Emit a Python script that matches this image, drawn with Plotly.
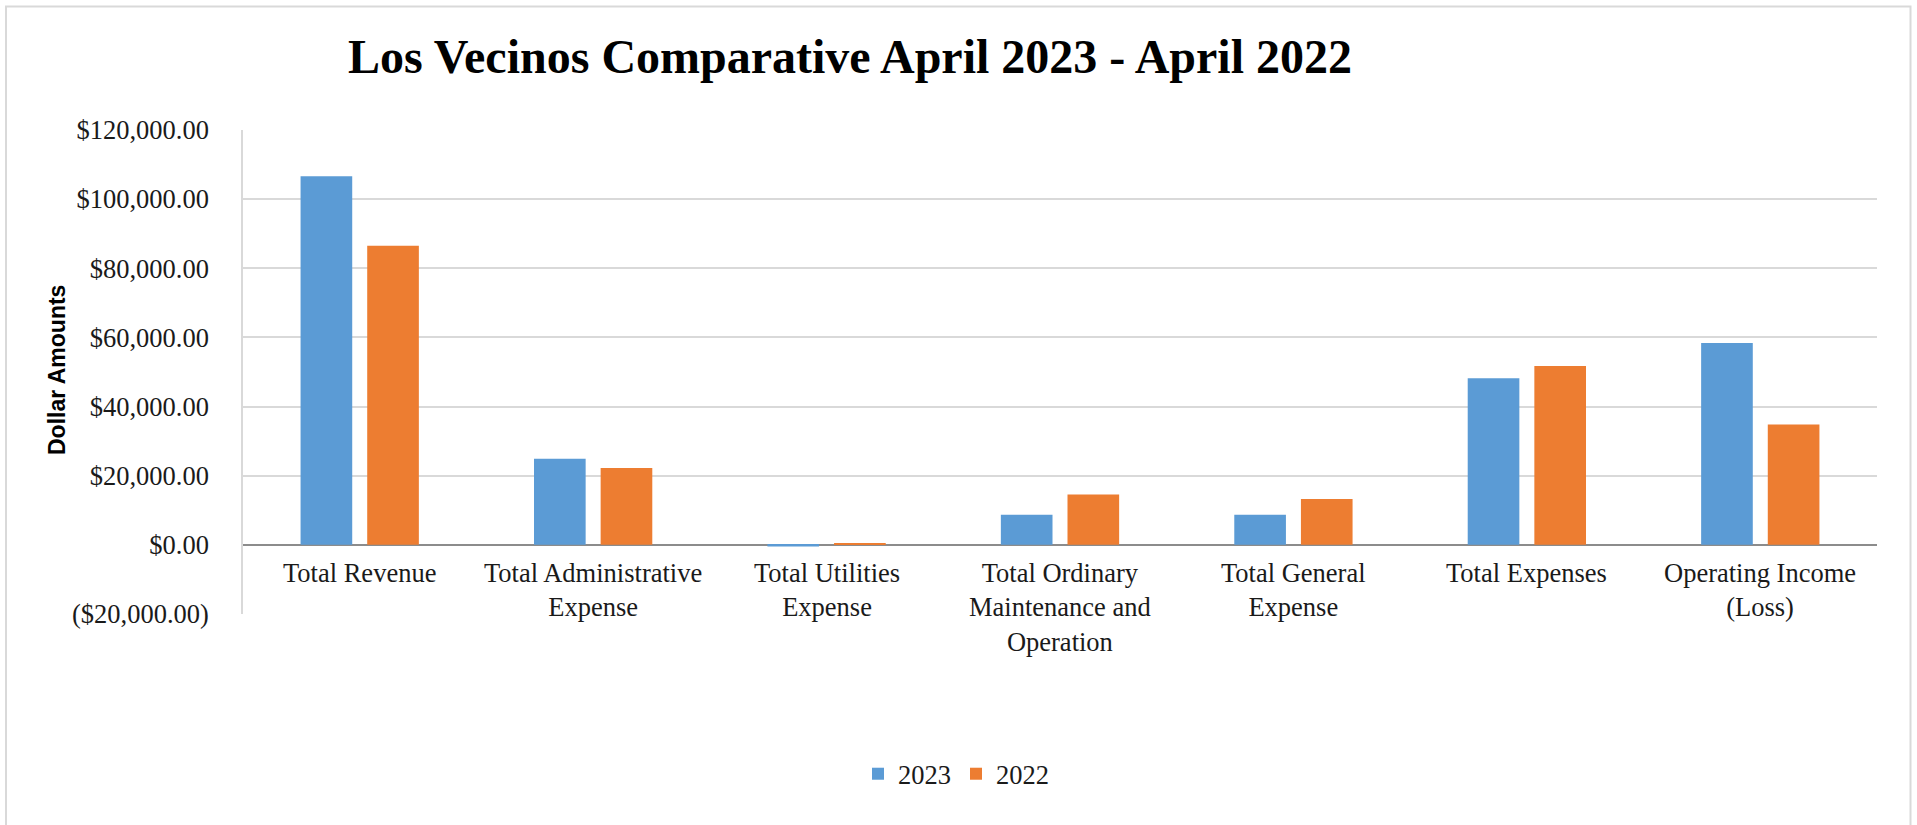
import plotly.graph_objects as go

# Category labels (line breaks as shown under each group)
categories = [
    "Total Revenue",
    "Total Administrative<br>Expense",
    "Total Utilities<br>Expense",
    "Total Ordinary<br>Maintenance and<br>Operation",
    "Total General<br>Expense",
    "Total Expenses",
    "Operating Income<br>(Loss)",
]

# Dollar amounts per category
values_2023 = [106600, 24900, -450, 8700, 8700, 48200, 58400]
values_2022 = [86500, 22200, 350, 14600, 13300, 51700, 34800]

# Y axis ticks
y_tickvals = [-20000, 0, 20000, 40000, 60000, 80000, 100000, 120000]
y_ticktext = ["($20,000.00)", "$0.00", "$20,000.00", "$40,000.00", "$60,000.00",
              "$80,000.00", "$100,000.00", "$120,000.00"]

SERIF = "Liberation Serif, Times New Roman, serif"
BLUE = "#5B9BD5"
ORANGE = "#ED7D31"
GRID = "#D9D9D9"
TEXT = "#1a1a1a"
LABEL_SIZE = 26.5

W, H = 1917, 825
ML, MR, MT, MB = 243, 40, 130, 211
plot_w = W - ML - MR
plot_h = H - MT - MB

x_idx = list(range(len(categories)))

fig = go.Figure()
fig.add_trace(go.Bar(x=x_idx, y=values_2023, name="2023", marker_color=BLUE,
                     marker_line_width=0))
fig.add_trace(go.Bar(x=x_idx, y=values_2022, name="2022", marker_color=ORANGE,
                     marker_line_width=0))

# Category labels sit just under the $0 line
for i, label in enumerate(categories):
    fig.add_annotation(x=i, y=0, xref="x", yref="y", text=label, showarrow=False,
                       yanchor="top", xanchor="center", yshift=-11,
                       font=dict(family=SERIF, size=LABEL_SIZE, color=TEXT))


def px_to_paper_x(px):
    return (px - ML) / plot_w


def px_to_paper_y(py):
    return (H - MB - py) / plot_h


# Vertical axis title
fig.add_annotation(x=px_to_paper_x(57), y=px_to_paper_y(370), xref="paper", yref="paper",
                   text="<b>Dollar Amounts</b>", textangle=-90, showarrow=False,
                   xanchor="center", yanchor="middle",
                   font=dict(family="Liberation Sans, Arial, sans-serif", size=23,
                             color="black"))

# Light outer frame around the chart
fig.add_shape(type="rect", xref="paper", yref="paper",
              x0=px_to_paper_x(6), x1=px_to_paper_x(1910.5),
              y0=px_to_paper_y(840), y1=px_to_paper_y(6.5),
              line=dict(color=GRID, width=2), fillcolor="rgba(0,0,0,0)", layer="below")

fig.update_layout(
    width=W, height=H,
    margin=dict(l=ML, r=MR, t=MT, b=MB, autoexpand=False),
    paper_bgcolor="white", plot_bgcolor="white",
    barmode="group", bargap=0.429, bargroupgap=0.225,
    title=dict(text="<b>Los Vecinos Comparative April 2023 - April 2022</b>",
               xref="container", yref="container",
               x=850 / W, xanchor="center", y=1 - 56 / H, yanchor="middle",
               font=dict(family=SERIF, size=48, color="black")),
    showlegend=True,
    legend=dict(orientation="h", x=px_to_paper_x(956), xanchor="center",
                y=px_to_paper_y(774), yanchor="middle",
                font=dict(family=SERIF, size=LABEL_SIZE, color=TEXT),
                itemsizing="constant", traceorder="normal"),
    font=dict(family=SERIF),
)

fig.update_xaxes(range=[-0.5, len(categories) - 0.5], showticklabels=False,
                 showgrid=False, zeroline=False, showline=False, ticks="")
fig.update_yaxes(range=[-20000, 120000], tickvals=y_tickvals, ticktext=y_ticktext,
                 showgrid=True, gridcolor=GRID, gridwidth=1.5,
                 zeroline=True, zerolinecolor="#8C8C8C", zerolinewidth=1.5,
                 showline=True, linecolor=GRID, linewidth=1.5,
                 ticks="outside", ticklen=27, tickcolor="rgba(0,0,0,0)",
                 tickfont=dict(family=SERIF, size=LABEL_SIZE, color=TEXT))

fig.write_html("out.html")
